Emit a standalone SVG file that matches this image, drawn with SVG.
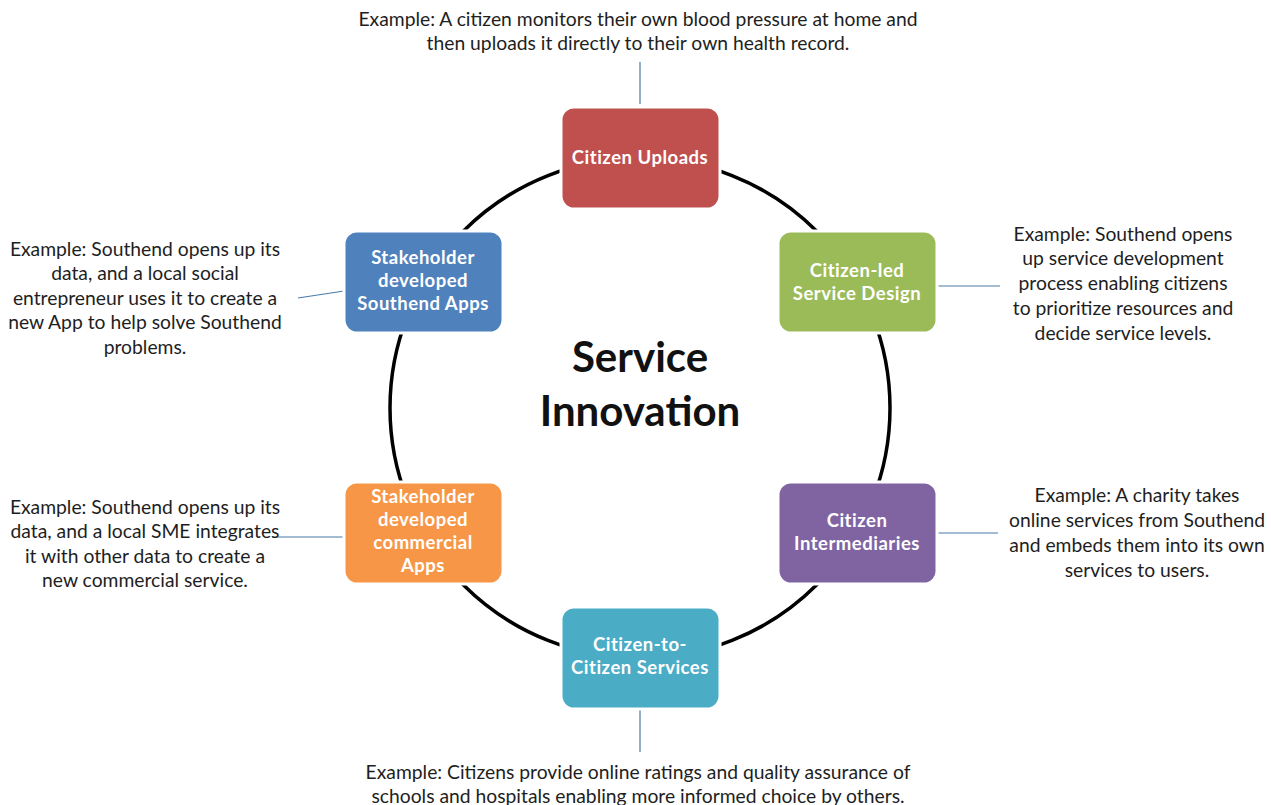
<svg xmlns="http://www.w3.org/2000/svg" width="1271" height="805" viewBox="0 0 1271 805">
<style>
.ex{font-family:Lato,"Liberation Sans",sans-serif;font-size:19.3px;fill:#1e1e1e;text-anchor:middle}
.nl{font-family:Lato,"Liberation Sans",sans-serif;font-size:18.5px;letter-spacing:0.5px;font-weight:bold;fill:#fff;text-anchor:middle}
.box{stroke:#fff;stroke-width:3}
.conn line{stroke:#4a7ba6;stroke-width:1.2}
.title{font-family:Lato,"Liberation Sans",sans-serif;font-size:42px;font-weight:bold;fill:#111;text-anchor:middle}
</style>
<rect width="1271" height="805" fill="#fff"/>
<g id="ring"><circle cx="640" cy="408" r="250" fill="none" stroke="#000" stroke-width="3.5"/></g>
<g class="conn" id="connectors">
<line x1="640" y1="62" x2="640" y2="104"/>
<line x1="298" y1="298" x2="344" y2="291"/>
<line x1="937" y1="286" x2="1000" y2="286"/>
<line x1="272" y1="537" x2="344" y2="537"/>
<line x1="937" y1="533" x2="998" y2="533"/>
<line x1="640" y1="710" x2="640" y2="752"/>
</g>
<g id="center"><text class="title" x="640" y="372">Service</text><text class="title" x="640" y="426">Innovation</text></g>
<g id="n-uploads"><rect class="box" x="561" y="107" width="159" height="102" rx="13" fill="#c0504d"/><text class="nl" x="640" y="164">Citizen Uploads</text></g>
<g id="n-design"><rect class="box" x="778" y="231" width="159" height="102" rx="13" fill="#9bbb59"/><text class="nl" x="857" y="277">Citizen-led</text><text class="nl" x="857" y="300">Service Design</text></g>
<g id="n-intermediaries"><rect class="box" x="778" y="482" width="159" height="102" rx="13" fill="#8064a2"/><text class="nl" x="857" y="527">Citizen</text><text class="nl" x="857" y="550">Intermediaries</text></g>
<g id="n-c2c"><rect class="box" x="561" y="607" width="159" height="102" rx="13" fill="#4bacc6"/><text class="nl" x="640" y="651">Citizen-to-</text><text class="nl" x="640" y="674">Citizen Services</text></g>
<g id="n-commercial"><rect class="box" x="344" y="482" width="159" height="102" rx="13" fill="#f79646"/><text class="nl" x="423" y="503">Stakeholder</text><text class="nl" x="423" y="526">developed</text><text class="nl" x="423" y="549">commercial</text><text class="nl" x="423" y="572">Apps</text></g>
<g id="n-apps"><rect class="box" x="344" y="231" width="159" height="102" rx="13" fill="#4f81bd"/><text class="nl" x="423" y="264">Stakeholder</text><text class="nl" x="423" y="287">developed</text><text class="nl" x="423" y="310">Southend Apps</text></g>
<g id="t-top"><text class="ex" x="638" y="26">Example: A citizen monitors their own blood pressure at home and</text><text class="ex" x="638" y="50">then uploads it directly to their own health record.</text></g>
<g id="t-ur"><text class="ex" x="1123" y="241">Example: Southend opens</text><text class="ex" x="1123" y="265">up service development</text><text class="ex" x="1123" y="290">process enabling citizens</text><text class="ex" x="1123" y="315">to prioritize resources and</text><text class="ex" x="1123" y="340">decide service levels.</text></g>
<g id="t-lr"><text class="ex" x="1137" y="502">Example: A charity takes</text><text class="ex" x="1137" y="527">online services from Southend</text><text class="ex" x="1137" y="552">and embeds them into its own</text><text class="ex" x="1137" y="577">services to users.</text></g>
<g id="t-bottom"><text class="ex" x="638" y="779">Example: Citizens provide online ratings and quality assurance of</text><text class="ex" x="638" y="803">schools and hospitals enabling more informed choice by others.</text></g>
<g id="t-ll"><text class="ex" x="145" y="514">Example: Southend opens up its</text><text class="ex" x="145" y="538">data, and a local SME integrates</text><text class="ex" x="145" y="563">it with other data to create a</text><text class="ex" x="145" y="587">new commercial service.</text></g>
<g id="t-ul"><text class="ex" x="145" y="256">Example: Southend opens up its</text><text class="ex" x="145" y="280">data, and a local social</text><text class="ex" x="145" y="305">entrepreneur  uses it to create a</text><text class="ex" x="145" y="329">new App to help solve Southend</text><text class="ex" x="145" y="354">problems.</text></g>
</svg>
